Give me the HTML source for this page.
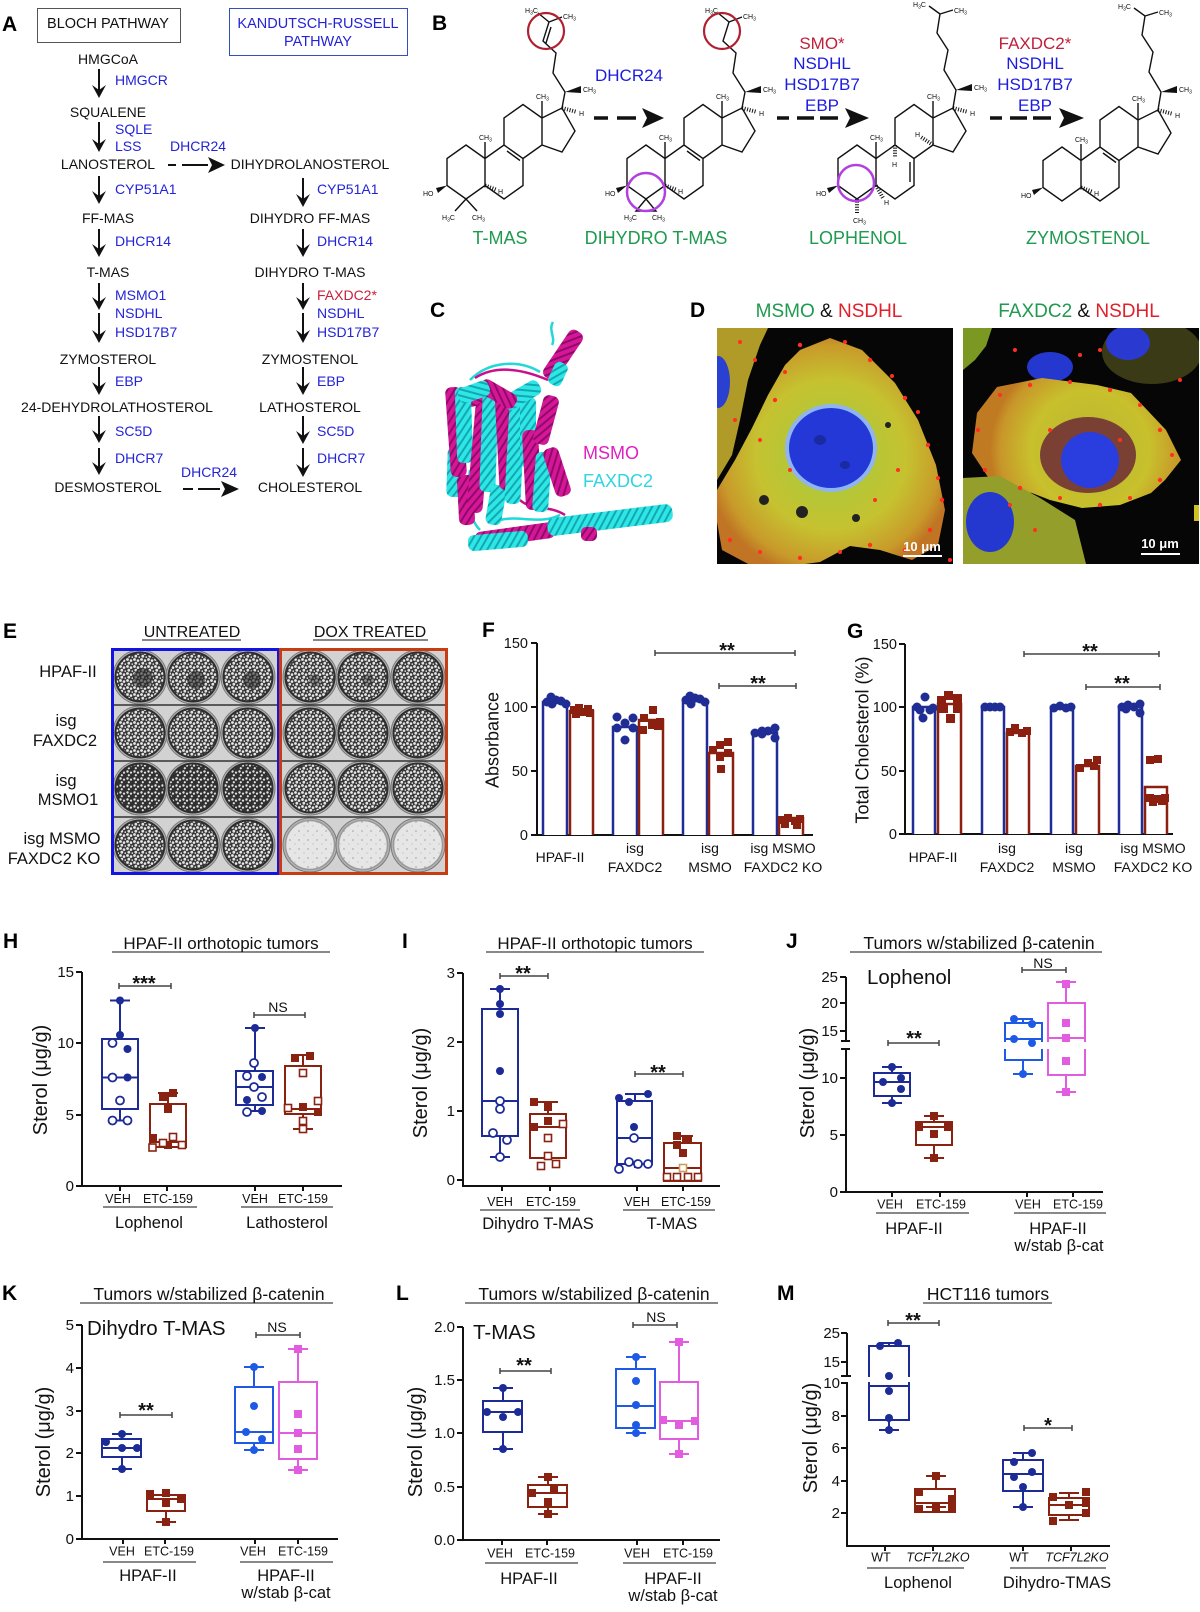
<!DOCTYPE html>
<html><head><meta charset="utf-8"><style>
html,body{margin:0;padding:0;background:#fff;}
svg text{font-family:"Liberation Sans",Arial,sans-serif;}
.pl{font-weight:bold;font-size:21px;fill:#000}
.a{font-size:14px;fill:#111}
.ab{font-size:14px;fill:#2323d8}
.ar{font-size:14px;fill:#c8203c}
.bb{font-size:17px;fill:#1c1ce0}
.br{font-size:17px;fill:#c0203a}
.bg{font-size:18px;fill:#1f9a4e}
.sm{font-size:7px;fill:#111}
.sub{font-size:5px}
.tk{font-size:14.5px;fill:#111}
.tk2{font-size:15px;fill:#111}
.yl{font-size:18px;fill:#111}
.yl2{font-size:20px;fill:#111}
.xl{font-size:14px;fill:#111}
.cat{font-size:12.5px;fill:#111}
.grp{font-size:16.5px;fill:#111}
.ttl{font-size:17.5px;fill:#111}
.st{font-size:20px;font-weight:bold;fill:#111}
.ns{font-size:14px;fill:#111}
.big{font-size:20.5px;fill:#111}
.el{font-size:16.5px;fill:#111}
.ax{stroke:#111;stroke-width:2;fill:none}
.brk{stroke:#444;stroke-width:1.5;fill:none}
.nb{stroke:#1c2b96;stroke-width:2;fill:#fff}
.rb{stroke:#8a2212;stroke-width:2;fill:#fff}
.sb{stroke:#1f5ae6;stroke-width:2;fill:#fff}
.mb{stroke:#e25ce0;stroke-width:2;fill:#fff}
.nf{fill:#1c2b96}
.no{fill:#fff;stroke:#1c2b96;stroke-width:1.8}
.rf{fill:#8a2212}
.ro{fill:#fff;stroke:#8a2212;stroke-width:1.6}
.sf{fill:#1f5ae6}
.mf{fill:#e25ce0}
.mol{stroke:#111;stroke-width:1.4;fill:none}
</style></head><body>
<svg width="1200" height="1607" viewBox="0 0 1200 1607" xmlns="http://www.w3.org/2000/svg">
<defs>
<pattern id="col" width="7" height="7" patternUnits="userSpaceOnUse"><rect width="7" height="7" fill="#383838"/><circle cx="1.5" cy="1.5" r="1.4" fill="#e8e8e8"/><circle cx="5" cy="2.6" r="1.3" fill="#e8e8e8"/><circle cx="2.8" cy="5.2" r="1.4" fill="#e2e2e2"/><circle cx="6.3" cy="6.1" r="0.9" fill="#d6d6d6"/></pattern>
<pattern id="col2" width="7" height="7" patternUnits="userSpaceOnUse"><rect width="7" height="7" fill="#303030"/><circle cx="1.5" cy="1.5" r="1.2" fill="#e6e6e6"/><circle cx="5" cy="2.6" r="1.1" fill="#e0e0e0"/><circle cx="2.8" cy="5.2" r="1.1" fill="#e2e2e2"/></pattern>
<pattern id="emp" width="9" height="9" patternUnits="userSpaceOnUse"><rect width="9" height="9" fill="#e6e6e6"/><circle cx="2" cy="3" r="0.6" fill="#777"/><circle cx="7" cy="7" r="0.5" fill="#999"/></pattern>
<pattern id="hm" width="6" height="6" patternUnits="userSpaceOnUse" patternTransform="rotate(35)"><rect width="6" height="6" fill="#d6169a"/><rect width="2" height="6" fill="#8e0c62"/></pattern>
<pattern id="hc" width="6" height="6" patternUnits="userSpaceOnUse" patternTransform="rotate(35)"><rect width="6" height="6" fill="#2ee6e6"/><rect width="2" height="6" fill="#13a8b0"/></pattern>
<radialGradient id="g1" cx="831" cy="455" r="125" gradientUnits="userSpaceOnUse"><stop offset="0" stop-color="#a0cc40"/><stop offset="0.6" stop-color="#c6c230"/><stop offset="0.88" stop-color="#c89a2a"/><stop offset="1" stop-color="#c07424"/></radialGradient>
<radialGradient id="g2" cx="1090" cy="450" r="100" gradientUnits="userSpaceOnUse"><stop offset="0" stop-color="#b8b432"/><stop offset="0.6" stop-color="#c8c02c"/><stop offset="0.9" stop-color="#c8962a"/><stop offset="1" stop-color="#c07a22"/></radialGradient>
<clipPath id="d1"><rect x="717" y="328" width="236" height="236"/></clipPath>
<clipPath id="d2"><rect x="963" y="328" width="236" height="236"/></clipPath>
</defs>

<!-- ================= PANEL A ================= -->
<text class="pl" x="2" y="31">A</text>
<rect x="37.5" y="8.5" width="143" height="34" fill="none" stroke="#555" stroke-width="1"/>
<text x="108" y="28" text-anchor="middle" style="font-size:14.5px;fill:#111">BLOCH PATHWAY</text>
<rect x="229.5" y="8.5" width="178" height="47" fill="none" stroke="#3050c0" stroke-width="1"/>
<text x="318" y="28" text-anchor="middle" style="font-size:14.5px;fill:#2323d8">KANDUTSCH-RUSSELL</text>
<text x="318" y="46" text-anchor="middle" style="font-size:14.5px;fill:#2323d8">PATHWAY</text>

<g text-anchor="middle">
<text class="a" x="108" y="64">HMGCoA</text>
<text class="a" x="108" y="117">SQUALENE</text>
<text class="a" x="108" y="169">LANOSTEROL</text>
<text class="a" x="108" y="223">FF-MAS</text>
<text class="a" x="108" y="277">T-MAS</text>
<text class="a" x="108" y="364">ZYMOSTEROL</text>
<text class="a" x="117" y="412">24-DEHYDROLATHOSTEROL</text>
<text class="a" x="108" y="492">DESMOSTEROL</text>
<text class="a" x="310" y="169">DIHYDROLANOSTEROL</text>
<text class="a" x="310" y="223">DIHYDRO FF-MAS</text>
<text class="a" x="310" y="277">DIHYDRO T-MAS</text>
<text class="a" x="310" y="364">ZYMOSTENOL</text>
<text class="a" x="310" y="412">LATHOSTEROL</text>
<text class="a" x="310" y="492">CHOLESTEROL</text>
</g>
<text class="ab" x="115" y="85">HMGCR</text>
<text class="ab" x="115" y="134">SQLE</text>
<text class="ab" x="115" y="151">LSS</text>
<text class="ab" x="170" y="151">DHCR24</text>
<text class="ab" x="115" y="194">CYP51A1</text>
<text class="ab" x="115" y="246">DHCR14</text>
<text class="ab" x="115" y="300">MSMO1</text>
<text class="ab" x="115" y="318">NSDHL</text>
<text class="ab" x="115" y="337">HSD17B7</text>
<text class="ab" x="115" y="386">EBP</text>
<text class="ab" x="115" y="436">SC5D</text>
<text class="ab" x="115" y="463">DHCR7</text>
<text class="ab" x="181" y="477">DHCR24</text>
<text class="ab" x="317" y="194">CYP51A1</text>
<text class="ab" x="317" y="246">DHCR14</text>
<text class="ar" x="317" y="300">FAXDC2*</text>
<text class="ab" x="317" y="318">NSDHL</text>
<text class="ab" x="317" y="337">HSD17B7</text>
<text class="ab" x="317" y="386">EBP</text>
<text class="ab" x="317" y="436">SC5D</text>
<text class="ab" x="317" y="463">DHCR7</text>

<g stroke="#111" stroke-width="2">
<line x1="99" y1="69" x2="99" y2="92"/><line x1="99" y1="122" x2="99" y2="146"/>
<line x1="99" y1="176" x2="99" y2="198"/><line x1="99" y1="229" x2="99" y2="251"/>
<line x1="99" y1="283" x2="99" y2="304"/><line x1="99" y1="313" x2="99" y2="337"/>
<line x1="99" y1="367" x2="99" y2="389"/><line x1="99" y1="416" x2="99" y2="437"/>
<line x1="99" y1="448" x2="99" y2="469"/>
<line x1="303" y1="178" x2="303" y2="201"/><line x1="303" y1="229" x2="303" y2="251"/>
<line x1="303" y1="283" x2="303" y2="304"/><line x1="303" y1="313" x2="303" y2="337"/>
<line x1="303" y1="367" x2="303" y2="389"/><line x1="303" y1="416" x2="303" y2="438"/>
<line x1="303" y1="448" x2="303" y2="471"/>
<line x1="168" y1="165" x2="176" y2="165"/><line x1="182" y1="165" x2="208" y2="165"/>
<line x1="183" y1="489" x2="193" y2="489"/><line x1="198" y1="489" x2="220" y2="489"/>
</g>
<g fill="#111">
<path d="M92,85 L99,98 L106,85 L99,90Z"/><path d="M92,139 L99,152 L106,139 L99,144Z"/>
<path d="M92,191 L99,204 L106,191 L99,196Z"/><path d="M92,244 L99,257 L106,244 L99,249Z"/>
<path d="M92,297 L99,310 L106,297 L99,302Z"/><path d="M92,330 L99,343 L106,330 L99,335Z"/>
<path d="M92,382 L99,395 L106,382 L99,387Z"/><path d="M92,430 L99,443 L106,430 L99,435Z"/>
<path d="M92,462 L99,475 L106,462 L99,467Z"/>
<path d="M296,194 L303,207 L310,194 L303,199Z"/><path d="M296,244 L303,257 L310,244 L303,249Z"/>
<path d="M296,297 L303,310 L310,297 L303,302Z"/><path d="M296,330 L303,343 L310,330 L303,335Z"/>
<path d="M296,382 L303,395 L310,382 L303,387Z"/><path d="M296,431 L303,444 L310,431 L303,436Z"/>
<path d="M296,464 L303,477 L310,464 L303,469Z"/>
<path d="M208,157 L225,165 L208,173 L212,165Z"/>
<path d="M221,481 L239,489 L221,497 L225,489Z"/>
</g>

<!-- ================= PANEL B ================= -->
<text class="pl" x="432" y="30">B</text>
<text class="bb" x="629" y="81" text-anchor="middle">DHCR24</text>
<g text-anchor="middle">
<text class="br" x="822" y="49">SMO*</text>
<text class="bb" x="822" y="69">NSDHL</text>
<text class="bb" x="822" y="90">HSD17B7</text>
<text class="bb" x="822" y="111">EBP</text>
<text class="br" x="1035" y="49">FAXDC2*</text>
<text class="bb" x="1035" y="69">NSDHL</text>
<text class="bb" x="1035" y="90">HSD17B7</text>
<text class="bb" x="1035" y="111">EBP</text>
<text class="bg" x="500" y="244">T-MAS</text>
<text class="bg" x="656" y="244">DIHYDRO T-MAS</text>
<text class="bg" x="858" y="244">LOPHENOL</text>
<text class="bg" x="1088" y="244">ZYMOSTENOL</text>
</g>
<g stroke="#111" stroke-width="3.5">
<line x1="594" y1="118" x2="608" y2="118"/><line x1="617" y1="118" x2="636" y2="118"/>
<line x1="777" y1="118" x2="789" y2="118"/><line x1="797" y1="118" x2="814" y2="118"/><line x1="820" y1="118" x2="838" y2="118"/>
<line x1="990" y1="118" x2="1002" y2="118"/><line x1="1010" y1="118" x2="1027" y2="118"/><line x1="1033" y1="118" x2="1051" y2="118"/>
</g>
<g fill="#111">
<path d="M642,108 L664,118 L642,128 L647,118Z"/>
<path d="M845,108 L869,118 L845,128 L850,118Z"/>
<path d="M1059,108 L1084,118 L1059,128 L1064,118Z"/>
</g>

<!-- molecule 1: T-MAS -->
<g>
<path class="mol" d="M466,145 L485,158.5 L485,185.5 L466,199 L447,185.5 L447,158.5 Z M485,158.5 L504,145 L523,158.5 L523,185.5 L504,199 L485,185.5 M504,145 L504,118 L523,104.5 L542,118 L542,145 L523,158.5 M542,118 L562,108 L575,131 L562,152 L542,145"/>
<path class="mol" d="M507,151 L520,160.5 M485,158.5 L485,142 M542,118 L542,101 M562,108 L565,92 L553,73 L556,53 L543,41 L549,22 L538,13 M549,22 L562,17 M546,43 L551,27 M466,199 L455,211 M466,199 L477,211"/>
<polygon points="565,92 581,86 581,93" fill="#111"/>
<polygon points="447,185.5 436,188 438,193" fill="#111"/>
<line x1="562" y1="108" x2="577" y2="112" stroke="#111" stroke-width="4" stroke-dasharray="1 1.6"/>
<line x1="485" y1="185.5" x2="497" y2="190" stroke="#111" stroke-width="4" stroke-dasharray="1 1.6"/>
<text class="sm" x="479" y="140">CH<tspan class="sub" dy="1.5">3</tspan></text>
<text class="sm" x="536" y="99">CH<tspan class="sub" dy="1.5">3</tspan></text>
<text class="sm" x="583" y="92">CH<tspan class="sub" dy="1.5">3</tspan></text>
<text class="sm" x="579" y="116">H</text>
<text class="sm" x="498" y="194">H</text>
<text class="sm" x="423" y="196">HO</text>
<text class="sm" x="442" y="220">H<tspan class="sub" dy="1.5">3</tspan><tspan dy="-1.5">C</tspan></text>
<text class="sm" x="472" y="220">CH<tspan class="sub" dy="1.5">3</tspan></text>
<text class="sm" x="525" y="13">H<tspan class="sub" dy="1.5">3</tspan><tspan dy="-1.5">C</tspan></text>
<text class="sm" x="563" y="19">CH<tspan class="sub" dy="1.5">3</tspan></text>
<circle cx="546" cy="31" r="18" fill="none" stroke="#b02030" stroke-width="2.2"/>
</g>
<!-- molecule 2: Dihydro T-MAS -->
<g transform="translate(180,0)">
<path class="mol" d="M466,145 L485,158.5 L485,185.5 L466,199 L447,185.5 L447,158.5 Z M485,158.5 L504,145 L523,158.5 L523,185.5 L504,199 L485,185.5 M504,145 L504,118 L523,104.5 L542,118 L542,145 L523,158.5 M542,118 L562,108 L575,131 L562,152 L542,145"/>
<path class="mol" d="M507,151 L520,160.5 M485,158.5 L485,142 M542,118 L542,101 M562,108 L565,92 L553,73 L556,53 L543,41 L549,22 L538,13 M549,22 L562,17 M466,199 L456,211 L476,211 Z"/>
<polygon points="565,92 581,86 581,93" fill="#111"/>
<polygon points="447,185.5 436,188 438,193" fill="#111"/>
<line x1="562" y1="108" x2="577" y2="112" stroke="#111" stroke-width="4" stroke-dasharray="1 1.6"/>
<line x1="485" y1="185.5" x2="497" y2="190" stroke="#111" stroke-width="4" stroke-dasharray="1 1.6"/>
<text class="sm" x="479" y="140">CH<tspan class="sub" dy="1.5">3</tspan></text>
<text class="sm" x="536" y="99">CH<tspan class="sub" dy="1.5">3</tspan></text>
<text class="sm" x="583" y="92">CH<tspan class="sub" dy="1.5">3</tspan></text>
<text class="sm" x="579" y="116">H</text>
<text class="sm" x="498" y="194">H</text>
<text class="sm" x="425" y="196">HO</text>
<text class="sm" x="444" y="220">H<tspan class="sub" dy="1.5">3</tspan><tspan dy="-1.5">C</tspan></text>
<text class="sm" x="472" y="220">CH<tspan class="sub" dy="1.5">3</tspan></text>
<text class="sm" x="525" y="13">H<tspan class="sub" dy="1.5">3</tspan><tspan dy="-1.5">C</tspan></text>
<text class="sm" x="563" y="19">CH<tspan class="sub" dy="1.5">3</tspan></text>
<circle cx="542" cy="31" r="18" fill="none" stroke="#b02030" stroke-width="2.2"/>
<circle cx="466" cy="192" r="19" fill="none" stroke="#b040e0" stroke-width="2.5"/>
</g>
<!-- molecule 3: Lophenol -->
<g transform="translate(391,0)">
<path class="mol" d="M466,145 L485,158.5 L485,185.5 L466,199 L447,185.5 L447,158.5 Z M485,158.5 L504,145 L523,158.5 L523,185.5 L504,199 L485,185.5 M504,145 L504,118 L523,104.5 L542,118 L542,145 L523,158.5 M542,118 L562,108 L575,131 L562,152 L542,145"/>
<path class="mol" d="M519,162 L519,182 M485,158.5 L485,142 M542,118 L542,101 M562,108 L565,90 L553,70 L557,50 L546,33 L549,14 L538,6 M549,14 L562,10"/>
<polygon points="565,90 581,84 581,91" fill="#111"/>
<polygon points="447,185.5 436,188 438,193" fill="#111"/>
<line x1="562" y1="108" x2="577" y2="112" stroke="#111" stroke-width="4" stroke-dasharray="1 1.6"/>
<line x1="504" y1="145" x2="504" y2="158" stroke="#111" stroke-width="4" stroke-dasharray="1 1.6"/>
<line x1="542" y1="145" x2="530" y2="137" stroke="#111" stroke-width="4" stroke-dasharray="1 1.6"/>
<line x1="485" y1="185.5" x2="492" y2="198" stroke="#111" stroke-width="4" stroke-dasharray="1 1.6"/>
<line x1="466" y1="199" x2="466" y2="214" stroke="#111" stroke-width="4" stroke-dasharray="1 1.6"/>
<text class="sm" x="479" y="140">CH<tspan class="sub" dy="1.5">3</tspan></text>
<text class="sm" x="536" y="99">CH<tspan class="sub" dy="1.5">3</tspan></text>
<text class="sm" x="583" y="90">CH<tspan class="sub" dy="1.5">3</tspan></text>
<text class="sm" x="579" y="116">H</text>
<text class="sm" x="501" y="167">H</text>
<text class="sm" x="524" y="137">H</text>
<text class="sm" x="493" y="205">H</text>
<text class="sm" x="425" y="196">HO</text>
<text class="sm" x="462" y="223">CH<tspan class="sub" dy="1.5">3</tspan></text>
<text class="sm" x="522" y="7">H<tspan class="sub" dy="1.5">3</tspan><tspan dy="-1.5">C</tspan></text>
<text class="sm" x="563" y="13">CH<tspan class="sub" dy="1.5">3</tspan></text>
<circle cx="465" cy="183" r="18" fill="none" stroke="#b040e0" stroke-width="2.5"/>
</g>
<!-- molecule 4: Zymostenol -->
<g transform="translate(596,2)">
<path class="mol" d="M466,145 L485,158.5 L485,185.5 L466,199 L447,185.5 L447,158.5 Z M485,158.5 L504,145 L523,158.5 L523,185.5 L504,199 L485,185.5 M504,145 L504,118 L523,104.5 L542,118 L542,145 L523,158.5 M542,118 L562,108 L575,131 L562,152 L542,145"/>
<path class="mol" d="M507,151 L520,160.5 M485,158.5 L485,142 M542,118 L542,101 M562,108 L565,90 L553,70 L557,50 L546,33 L549,14 L538,6 M549,14 L562,10"/>
<polygon points="565,90 581,84 581,91" fill="#111"/>
<polygon points="447,185.5 436,188 438,193" fill="#111"/>
<line x1="562" y1="108" x2="577" y2="112" stroke="#111" stroke-width="4" stroke-dasharray="1 1.6"/>
<line x1="485" y1="185.5" x2="497" y2="190" stroke="#111" stroke-width="4" stroke-dasharray="1 1.6"/>
<text class="sm" x="479" y="140">CH<tspan class="sub" dy="1.5">3</tspan></text>
<text class="sm" x="536" y="99">CH<tspan class="sub" dy="1.5">3</tspan></text>
<text class="sm" x="583" y="90">CH<tspan class="sub" dy="1.5">3</tspan></text>
<text class="sm" x="579" y="116">H</text>
<text class="sm" x="498" y="194">H</text>
<text class="sm" x="425" y="196">HO</text>
<text class="sm" x="522" y="7">H<tspan class="sub" dy="1.5">3</tspan><tspan dy="-1.5">C</tspan></text>
<text class="sm" x="563" y="13">CH<tspan class="sub" dy="1.5">3</tspan></text>
</g>

<!-- ================= PANEL C ================= -->
<text class="pl" x="430" y="317">C</text>
<g>
<path d="M553,322 C548,330 556,338 552,345 M470,380 C490,360 520,360 540,372 M500,520 C520,515 540,525 560,515 M470,470 C465,500 470,520 480,530" stroke="#22d8d8" stroke-width="2.5" fill="none"/>
<path d="M475,378 C495,365 520,368 548,380 M520,500 C530,510 550,505 565,515" stroke="#c8108c" stroke-width="2.5" fill="none"/>
<rect x="-8" y="-28" width="16" height="56" rx="6" fill="url(#hm)" transform="translate(563,355) rotate(34)"/>
<rect x="-7" y="-12" width="14" height="24" rx="5" fill="url(#hc)" transform="translate(558,374) rotate(25)"/>
<rect x="-8" y="-20" width="16" height="40" rx="6" fill="url(#hm)" transform="translate(476,398) rotate(80)"/>
<rect x="-8" y="-25" width="16" height="50" rx="6" fill="url(#hc)" transform="translate(455,472) rotate(2)"/>
<rect x="-8" y="-25" width="16" height="50" rx="6" fill="url(#hm)" transform="translate(466,500) rotate(-3)"/>
<rect x="-8" y="-45" width="16" height="90" rx="6" fill="url(#hm)" transform="translate(456,432) rotate(-4)"/>
<rect x="-8" y="-38" width="16" height="76" rx="6" fill="url(#hc)" transform="translate(464,425) rotate(-2)"/>
<rect x="-8" y="-55" width="16" height="110" rx="6" fill="url(#hm)" transform="translate(479,458) rotate(5)"/>
<rect x="-8" y="-50" width="16" height="100" rx="6" fill="url(#hc)" transform="translate(489,442) rotate(2)"/>
<rect x="-8" y="-20" width="16" height="40" rx="6" fill="url(#hc)" transform="translate(496,505) rotate(10)"/>
<rect x="-8" y="-50" width="16" height="100" rx="6" fill="url(#hm)" transform="translate(505,440) rotate(-3)"/>
<rect x="-8" y="-52" width="16" height="104" rx="6" fill="url(#hc)" transform="translate(515,452) rotate(3)"/>
<rect x="-8" y="-35" width="16" height="70" rx="6" fill="url(#hc)" transform="translate(528,432) rotate(0)"/>
<rect x="-8" y="-40" width="16" height="80" rx="6" fill="url(#hm)" transform="translate(532,470) rotate(-3)"/>
<rect x="-8" y="-25" width="16" height="50" rx="6" fill="url(#hm)" transform="translate(546,420) rotate(15)"/>
<rect x="-8" y="-30" width="16" height="60" rx="6" fill="url(#hc)" transform="translate(542,482) rotate(4)"/>
<rect x="-8" y="-25" width="16" height="50" rx="6" fill="url(#hm)" transform="translate(557,472) rotate(-18)"/>
<rect x="-8" y="-20" width="16" height="40" rx="6" fill="url(#hc)" transform="translate(522,395) rotate(60)"/>
<rect x="-8" y="-20" width="16" height="40" rx="6" fill="url(#hm)" transform="translate(498,394) rotate(-60)"/>
<rect x="-8" y="-16" width="16" height="32" rx="6" fill="url(#hc)" transform="translate(474,392) rotate(70)"/>
<rect x="-40" y="-8" width="80" height="16" rx="6" fill="url(#hm)" transform="translate(515,535) rotate(-8)"/>
<rect x="-30" y="-8" width="60" height="16" rx="6" fill="url(#hc)" transform="translate(498,541) rotate(-5)"/>
<rect x="-63" y="-9" width="126" height="18" rx="7" fill="url(#hc)" transform="translate(610,520) rotate(-7)"/>
<rect x="-8" y="-7" width="16" height="14" rx="5" fill="url(#hm)" transform="translate(589,534)"/>
</g>
<text x="583" y="459" style="font-size:18px;fill:#e020c0">MSMO</text>
<text x="583" y="487" style="font-size:18px;fill:#30d4e4">FAXDC2</text>

<!-- ================= PANEL D ================= -->
<text class="pl" x="690" y="317">D</text>
<text x="829" y="317" text-anchor="middle" style="font-size:19px"><tspan fill="#1f9a4e">MSMO</tspan><tspan fill="#111"> &amp; </tspan><tspan fill="#e0202a">NSDHL</tspan></text>
<text x="1079" y="317" text-anchor="middle" style="font-size:19px"><tspan fill="#1f9a4e">FAXDC2</tspan><tspan fill="#111"> &amp; </tspan><tspan fill="#e0202a">NSDHL</tspan></text>
<g clip-path="url(#d1)">
<rect x="717" y="328" width="236" height="236" fill="#060606"/>
<polygon points="717,328 768,328 760,345 748,380 740,420 732,455 717,480" fill="#b09a28"/>
<ellipse cx="718" cy="382" rx="12" ry="26" fill="#2a40d0"/>
<polygon points="800,350 830,338 862,350 895,383 918,420 936,465 945,510 938,545 912,560 880,550 850,546 820,562 790,566 752,566 722,550 717,522 717,490 735,460 752,428 768,395 785,365" fill="url(#g1)"/>
<ellipse cx="831" cy="448" rx="46" ry="44" fill="#8fb4f0"/>
<ellipse cx="831" cy="448" rx="42" ry="40" fill="#2438d8"/>
<ellipse cx="820" cy="440" rx="6" ry="5" fill="#1a2aa0"/>
<ellipse cx="845" cy="465" rx="5" ry="4" fill="#1a2aa0"/>
<circle cx="764" cy="500" r="5" fill="#222"/><circle cx="802" cy="512" r="6" fill="#222"/><circle cx="856" cy="518" r="4" fill="#222"/><circle cx="888" cy="425" r="3" fill="#222"/>
<g fill="#ff3020">
<circle cx="800" cy="345" r="2.2"/><circle cx="845" cy="342" r="2"/><circle cx="870" cy="360" r="2.2"/><circle cx="892" cy="376" r="2"/><circle cx="905" cy="398" r="2.2"/><circle cx="918" cy="412" r="2"/><circle cx="928" cy="445" r="2.2"/><circle cx="938" cy="478" r="2"/><circle cx="942" cy="500" r="2.2"/><circle cx="930" cy="530" r="2.2"/><circle cx="905" cy="550" r="2"/><circle cx="870" cy="545" r="2.2"/><circle cx="840" cy="552" r="2"/><circle cx="800" cy="558" r="2.2"/><circle cx="760" cy="552" r="2"/><circle cx="730" cy="540" r="2.2"/><circle cx="785" cy="372" r="2"/><circle cx="775" cy="400" r="2.2"/><circle cx="760" cy="440" r="2"/><circle cx="875" cy="500" r="2"/><circle cx="898" cy="470" r="2"/><circle cx="790" cy="470" r="2"/><circle cx="740" cy="342" r="2"/><circle cx="755" cy="360" r="2"/><circle cx="950" cy="560" r="2"/><circle cx="735" cy="420" r="2"/>
</g>
<text x="922" y="551" text-anchor="middle" style="font-size:13px;font-weight:bold;fill:#fff">10 μm</text>
<line x1="903" y1="556" x2="942" y2="556" stroke="#fff" stroke-width="2"/>
</g>
<g clip-path="url(#d2)">
<rect x="963" y="328" width="236" height="236" fill="#060606"/>
<polygon points="963,328 992,328 986,346 975,360 963,370" fill="#7a9822"/>
<ellipse cx="1152" cy="352" rx="50" ry="32" fill="#3a3a16"/>
<ellipse cx="1128" cy="343" rx="22" ry="17" fill="#2a3ad0"/>
<ellipse cx="1050" cy="367" rx="23" ry="15" fill="#2438d0"/>
<polygon points="977,413 997,387 1042,378 1097,385 1131,393 1166,430 1181,460 1165,480 1151,493 1120,505 1082,508 1050,500 1032,493 992,483 972,453" fill="url(#g2)"/>
<ellipse cx="1088" cy="455" rx="48" ry="38" fill="#7a4034"/>
<ellipse cx="1090" cy="460" rx="29" ry="28" fill="#2a3ee0"/>
<polygon points="963,478 1000,476 1040,498 1075,520 1086,564 963,564" fill="#949e2a"/>
<ellipse cx="990" cy="522" rx="24" ry="30" fill="#2438d0"/>
<rect x="1194" y="505" width="6" height="16" fill="#d0c020"/>
<g fill="#ff3020">
<circle cx="1000" cy="395" r="2"/><circle cx="1030" cy="385" r="2.2"/><circle cx="1070" cy="382" r="2"/><circle cx="1110" cy="390" r="2.2"/><circle cx="1140" cy="405" r="2"/><circle cx="1160" cy="430" r="2.2"/><circle cx="1172" cy="455" r="2"/><circle cx="1160" cy="480" r="2.2"/><circle cx="1130" cy="498" r="2"/><circle cx="1100" cy="505" r="2.2"/><circle cx="1060" cy="498" r="2"/><circle cx="1020" cy="488" r="2.2"/><circle cx="985" cy="470" r="2"/><circle cx="978" cy="430" r="2.2"/><circle cx="1050" cy="430" r="2"/><circle cx="1120" cy="440" r="2"/><circle cx="1100" cy="350" r="2"/><circle cx="1080" cy="355" r="2"/><circle cx="1015" cy="350" r="2"/><circle cx="1180" cy="380" r="2"/><circle cx="1035" cy="530" r="2"/><circle cx="1010" cy="505" r="2"/>
</g>
<text x="1160" y="548" text-anchor="middle" style="font-size:13px;font-weight:bold;fill:#fff">10 μm</text>
<line x1="1141" y1="554" x2="1180" y2="554" stroke="#fff" stroke-width="2"/>
</g>

<!-- ================= PANEL E ================= -->
<text class="pl" x="3" y="638">E</text>
<text class="el" x="192" y="637" text-anchor="middle" style="font-size:16px">UNTREATED</text>
<line x1="142" y1="640" x2="241" y2="640" stroke="#111" stroke-width="1"/>
<text class="el" x="370" y="637" text-anchor="middle" style="font-size:16px">DOX TREATED</text>
<line x1="313" y1="640" x2="428" y2="640" stroke="#111" stroke-width="1"/>
<g text-anchor="middle">
<text class="el" x="68" y="677">HPAF-II</text>
<text class="el" x="66" y="726">isg</text>
<text class="el" x="65" y="746">FAXDC2</text>
<text class="el" x="66" y="786">isg</text>
<text class="el" x="68" y="805">MSMO1</text>
<text class="el" x="62" y="844">isg MSMO</text>
<text class="el" x="54" y="864">FAXDC2 KO</text>
</g>
<rect x="112" y="648" width="336" height="226" fill="#d2d2d2"/>
<g stroke="#7a7a7a" stroke-width="1" fill="#b4b4b4">
<circle cx="140" cy="677" r="27"/><circle cx="193" cy="677" r="27"/><circle cx="248" cy="677" r="27"/><circle cx="310" cy="677" r="27"/><circle cx="363" cy="677" r="27"/><circle cx="418" cy="677" r="27"/>
<circle cx="140" cy="733" r="27"/><circle cx="193" cy="733" r="27"/><circle cx="248" cy="733" r="27"/><circle cx="310" cy="733" r="27"/><circle cx="363" cy="733" r="27"/><circle cx="418" cy="733" r="27"/>
<circle cx="140" cy="788" r="27"/><circle cx="193" cy="788" r="27"/><circle cx="248" cy="788" r="27"/><circle cx="310" cy="788" r="27"/><circle cx="363" cy="788" r="27"/><circle cx="418" cy="788" r="27"/>
<circle cx="140" cy="845" r="27"/><circle cx="193" cy="845" r="27"/><circle cx="248" cy="845" r="27"/><circle cx="310" cy="845" r="27"/><circle cx="363" cy="845" r="27"/><circle cx="418" cy="845" r="27"/>
</g>
<g stroke="#2e2e2e" stroke-width="2">
<circle cx="140" cy="677" r="24.5" fill="url(#col)"/><circle cx="193" cy="677" r="24.5" fill="url(#col)"/><circle cx="248" cy="677" r="24.5" fill="url(#col)"/><circle cx="310" cy="677" r="24.5" fill="url(#col)"/><circle cx="363" cy="677" r="24.5" fill="url(#col)"/><circle cx="418" cy="677" r="24.5" fill="url(#col)"/>
<circle cx="140" cy="733" r="24.5" fill="url(#col)"/><circle cx="193" cy="733" r="24.5" fill="url(#col)"/><circle cx="248" cy="733" r="24.5" fill="url(#col)"/><circle cx="310" cy="733" r="24.5" fill="url(#col)"/><circle cx="363" cy="733" r="24.5" fill="url(#col)"/><circle cx="418" cy="733" r="24.5" fill="url(#col)"/>
<circle cx="140" cy="788" r="24.5" fill="url(#col2)"/><circle cx="193" cy="788" r="24.5" fill="url(#col2)"/><circle cx="248" cy="788" r="24.5" fill="url(#col2)"/><circle cx="310" cy="788" r="24.5" fill="url(#col)"/><circle cx="363" cy="788" r="24.5" fill="url(#col)"/><circle cx="418" cy="788" r="24.5" fill="url(#col)"/>
<circle cx="140" cy="845" r="24.5" fill="url(#col)"/><circle cx="193" cy="845" r="24.5" fill="url(#col)"/><circle cx="248" cy="845" r="24.5" fill="url(#col)"/>
</g>
<g stroke="#9a9a9a" stroke-width="1.5">
<circle cx="310" cy="845" r="24.5" fill="url(#emp)"/><circle cx="363" cy="845" r="24.5" fill="url(#emp)"/><circle cx="418" cy="845" r="24.5" fill="url(#emp)"/>
</g>
<g>
<circle cx="143" cy="678" r="10" fill="#2a2a2a" opacity="0.6"/><circle cx="196" cy="680" r="9" fill="#2a2a2a" opacity="0.6"/><circle cx="252" cy="680" r="9" fill="#2a2a2a" opacity="0.6"/>
<circle cx="315" cy="680" r="6" fill="#2a2a2a" opacity="0.45"/><circle cx="368" cy="680" r="6" fill="#2a2a2a" opacity="0.45"/>
</g>
<g stroke="#333" stroke-width="1.5">
<line x1="113" y1="705" x2="447" y2="705"/><line x1="113" y1="761" x2="447" y2="761"/><line x1="113" y1="817" x2="447" y2="817"/>
</g>
<rect x="112.5" y="649.5" width="166" height="224" fill="none" stroke="#1414e0" stroke-width="3"/>
<rect x="280.5" y="649.5" width="166" height="224" fill="none" stroke="#c83c14" stroke-width="3"/>

<!-- ================= PANEL F ================= -->
<text class="pl" x="482" y="637">F</text>
<g class="ax"><path d="M537,643 L537,835 L813,835 M531,643 L537,643 M531,707 L537,707 M531,771 L537,771 M531,835 L537,835"/></g>
<g text-anchor="end">
<text class="tk" x="528" y="648">150</text><text class="tk" x="528" y="712">100</text><text class="tk" x="528" y="776">50</text><text class="tk" x="528" y="840">0</text>
</g>
<text class="yl" transform="translate(492,740) rotate(-90)" y="6.5" text-anchor="middle">Absorbance</text>
<g stroke-width="2.5" fill="#fff">
<path d="M543,835 L543,702 L567,702 L567,835" stroke="#1f2d95"/>
<path d="M570,835 L570,711 L593,711 L593,835" stroke="#8b2010"/>
<path d="M613,835 L613,727 L637,727 L637,835" stroke="#1f2d95"/>
<path d="M639,835 L639,720 L663,720 L663,835" stroke="#8b2010"/>
<path d="M683,835 L683,701 L707,701 L707,835" stroke="#1f2d95"/>
<path d="M709,835 L709,753 L733,753 L733,835" stroke="#8b2010"/>
<path d="M753,835 L753,733 L777,733 L777,835" stroke="#1f2d95"/>
<path d="M779,835 L779,818 L803,818 L803,835" stroke="#8b2010"/>
</g>
<g fill="#1f2d95">
<circle cx="547" cy="702" r="4.5"/><circle cx="551" cy="697" r="4.5"/><circle cx="556" cy="700" r="4.5"/><circle cx="561" cy="701" r="4.5"/><circle cx="566" cy="704" r="4.5"/><circle cx="552" cy="704" r="4.5"/>
<circle cx="617" cy="717" r="4.5"/><circle cx="625" cy="723" r="4.5"/><circle cx="633" cy="718" r="4.5"/><circle cx="617" cy="728" r="4.5"/><circle cx="633" cy="728" r="4.5"/><circle cx="625" cy="740" r="4.5"/>
<circle cx="686" cy="700" r="4.5"/><circle cx="690" cy="696" r="4.5"/><circle cx="695" cy="698" r="4.5"/><circle cx="700" cy="699" r="4.5"/><circle cx="705" cy="702" r="4.5"/><circle cx="691" cy="704" r="4.5"/>
<circle cx="755" cy="733" r="4.5"/><circle cx="762" cy="731" r="4.5"/><circle cx="768" cy="731" r="4.5"/><circle cx="775" cy="728" r="4.5"/><circle cx="775" cy="738" r="4.5"/><circle cx="762" cy="734" r="4.5"/>
</g>
<g fill="#8b2010">
<rect x="570" y="706" width="8" height="8"/><rect x="575" y="704" width="8" height="8"/><rect x="579" y="708" width="8" height="8"/><rect x="584" y="705" width="8" height="8"/><rect x="572" y="710" width="8" height="8"/><rect x="586" y="709" width="8" height="8"/>
<rect x="640" y="714" width="8" height="8"/><rect x="649" y="706" width="8" height="8"/><rect x="656" y="718" width="8" height="8"/><rect x="639" y="726" width="8" height="8"/><rect x="648" y="721" width="8" height="8"/><rect x="654" y="722" width="8" height="8"/>
<rect x="724" y="738" width="8" height="8"/><rect x="716" y="741" width="8" height="8"/><rect x="709" y="746" width="8" height="8"/><rect x="724" y="749" width="8" height="8"/><rect x="716" y="753" width="8" height="8"/><rect x="717" y="765" width="8" height="8"/>
<rect x="778" y="816" width="8" height="8"/><rect x="784" y="814" width="8" height="8"/><rect x="791" y="817" width="8" height="8"/><rect x="796" y="815" width="8" height="8"/><rect x="781" y="820" width="8" height="8"/><rect x="793" y="821" width="8" height="8"/>
</g>
<g class="brk"><path d="M655,650 L655,656 M655,653 L795,653 M795,650 L795,656 M719,683 L719,689 M719,686 L796,686 M796,683 L796,689"/></g>
<text class="st" x="727" y="657" text-anchor="middle">**</text>
<text class="st" x="758" y="690" text-anchor="middle">**</text>
<g text-anchor="middle">
<text class="xl" x="560" y="862">HPAF-II</text>
<text class="xl" x="635" y="853">isg</text><text class="xl" x="635" y="872">FAXDC2</text>
<text class="xl" x="710" y="853">isg</text><text class="xl" x="710" y="872">MSMO</text>
<text class="xl" x="783" y="853">isg MSMO</text><text class="xl" x="783" y="872">FAXDC2 KO</text>
</g>

<!-- ================= PANEL G ================= -->
<text class="pl" x="847" y="638">G</text>
<g class="ax"><path d="M905,644 L905,834 L1173,834 M899,644 L905,644 M899,707 L905,707 M899,771 L905,771 M899,834 L905,834"/></g>
<g text-anchor="end">
<text class="tk" x="897" y="649">150</text><text class="tk" x="897" y="712">100</text><text class="tk" x="897" y="776">50</text><text class="tk" x="897" y="839">0</text>
</g>
<text class="yl" transform="translate(862,740) rotate(-90)" y="6.5" text-anchor="middle">Total Cholesterol (%)</text>
<g stroke-width="2.5" fill="#fff">
<path d="M913,834 L913,707 L935,707 L935,834" stroke="#1f2d95"/>
<path d="M938,834 L938,704 L961,704 L961,834" stroke="#8b2010"/>
<path d="M982,834 L982,707 L1004,707 L1004,834" stroke="#1f2d95"/>
<path d="M1007,834 L1007,733 L1029,733 L1029,834" stroke="#8b2010"/>
<path d="M1051,834 L1051,707 L1073,707 L1073,834" stroke="#1f2d95"/>
<path d="M1076,834 L1076,766 L1099,766 L1099,834" stroke="#8b2010"/>
<path d="M1119,834 L1119,707 L1142,707 L1142,834" stroke="#1f2d95"/>
<path d="M1145,834 L1145,787 L1167,787 L1167,834" stroke="#8b2010"/>
</g>
<g fill="#1f2d95">
<circle cx="917" cy="707" r="4.5"/><circle cx="925" cy="697" r="4.5"/><circle cx="933" cy="708" r="4.5"/><circle cx="920" cy="710" r="4.5"/><circle cx="923" cy="718" r="4.5"/><circle cx="930" cy="710" r="4.5"/>
<circle cx="985" cy="707" r="4.5"/><circle cx="990" cy="707" r="4.5"/><circle cx="995" cy="707" r="4.5"/><circle cx="1000" cy="707" r="4.5"/>
<circle cx="1054" cy="708" r="4.5"/><circle cx="1060" cy="706" r="4.5"/><circle cx="1066" cy="708" r="4.5"/><circle cx="1071" cy="707" r="4.5"/>
<circle cx="1122" cy="707" r="4.5"/><circle cx="1128" cy="705" r="4.5"/><circle cx="1134" cy="707" r="4.5"/><circle cx="1140" cy="704" r="4.5"/><circle cx="1140" cy="713" r="4.5"/><circle cx="1126" cy="709" r="4.5"/>
</g>
<g fill="#8b2010">
<rect x="937" y="696" width="9" height="9"/><rect x="944" y="691" width="9" height="9"/><rect x="953" y="694" width="9" height="9"/><rect x="939" y="704" width="9" height="9"/><rect x="953" y="704" width="9" height="9"/><rect x="946" y="714" width="9" height="9"/>
<rect x="1006" y="728" width="8" height="8"/><rect x="1011" y="724" width="8" height="8"/><rect x="1018" y="729" width="8" height="8"/><rect x="1023" y="727" width="8" height="8"/>
<rect x="1076" y="764" width="8" height="8"/><rect x="1084" y="759" width="8" height="8"/><rect x="1090" y="762" width="8" height="8"/><rect x="1093" y="756" width="8" height="8"/>
<rect x="1146" y="756" width="8" height="8"/><rect x="1154" y="755" width="8" height="8"/>
<rect x="1146" y="794" width="8" height="8"/><rect x="1149" y="798" width="8" height="8"/><rect x="1154" y="795" width="8" height="8"/><rect x="1158" y="797" width="8" height="8"/><rect x="1161" y="794" width="8" height="8"/>
</g>
<g class="brk"><path d="M1024,651 L1024,657 M1024,654 L1159,654 M1159,651 L1159,657 M1086,684 L1086,690 M1086,687 L1160,687 M1160,684 L1160,690"/></g>
<text class="st" x="1090" y="658" text-anchor="middle">**</text>
<text class="st" x="1122" y="690" text-anchor="middle">**</text>
<g text-anchor="middle">
<text class="xl" x="933" y="862">HPAF-II</text>
<text class="xl" x="1007" y="853">isg</text><text class="xl" x="1007" y="872">FAXDC2</text>
<text class="xl" x="1074" y="853">isg</text><text class="xl" x="1074" y="872">MSMO</text>
<text class="xl" x="1153" y="853">isg MSMO</text><text class="xl" x="1153" y="872">FAXDC2 KO</text>
</g>

<!-- ================= PANEL H ================= -->
<text class="pl" x="3" y="948">H</text>
<text class="ttl" x="221" y="949" text-anchor="middle" style="font-size:17px">HPAF-II orthotopic tumors</text>
<line x1="112" y1="952" x2="330" y2="952" stroke="#111" stroke-width="1"/>
<g class="ax"><path d="M82,972 L82,1186 L342,1186 M76,972 L82,972 M76,1043 L82,1043 M76,1115 L82,1115 M76,1186 L82,1186 M120,1186 L120,1191 M167,1186 L167,1191 M255,1186 L255,1191 M303,1186 L303,1191"/></g>
<g text-anchor="end"><text class="tk2" x="74" y="977">15</text><text class="tk2" x="74" y="1048">10</text><text class="tk2" x="74" y="1120">5</text><text class="tk2" x="74" y="1191">0</text></g>
<text class="yl2" transform="translate(40,1080) rotate(-90)" y="7" text-anchor="middle">Sterol (μg/g)</text>
<path class="nb" d="M120,1000.5 L120,1039 M120,1109 L120,1120.5 M110,1000.5 L130,1000.5 M110,1120.5 L130,1120.5"/>
<rect class="nb" x="102" y="1039" width="36" height="70"/><line x1="102" y1="1077.5" x2="138" y2="1077.5" stroke="#1c2b96" stroke-width="2"/>
<path class="rb" d="M168,1093 L168,1104 M158,1093 L178,1093"/>
<rect class="rb" x="150" y="1104" width="36" height="43"/><line x1="150" y1="1142" x2="186" y2="1142" stroke="#8a2212" stroke-width="2"/>
<path class="nb" d="M255,1028 L255,1071 M255,1105 L255,1111 M245,1028 L265,1028 M245,1111 L265,1111"/>
<rect class="nb" x="236" y="1071" width="37" height="34"/><line x1="236" y1="1087" x2="273" y2="1087" stroke="#1c2b96" stroke-width="2"/>
<path class="rb" d="M303,1055 L303,1066 M303,1114 L303,1129 M293,1055 L313,1055 M293,1129 L313,1129"/>
<rect class="rb" x="285" y="1066" width="36" height="48"/><line x1="285" y1="1109" x2="321" y2="1109" stroke="#8a2212" stroke-width="2"/>
<g>
<circle class="nf" cx="120" cy="1000.5" r="4"/><circle class="nf" cx="120" cy="1035" r="4"/><circle class="nf" cx="127.5" cy="1049" r="4"/><circle class="nf" cx="127.5" cy="1077.5" r="4"/>
<circle class="no" cx="112.5" cy="1043" r="4"/><circle class="no" cx="112.5" cy="1077.5" r="4"/><circle class="no" cx="120" cy="1100.5" r="4"/><circle class="no" cx="112.5" cy="1120.5" r="4"/><circle class="no" cx="127.5" cy="1120.5" r="4"/>
<rect class="rf" x="169" y="1089" width="8" height="8"/><rect class="rf" x="159" y="1093" width="8" height="8"/><rect class="rf" x="164" y="1105" width="8" height="8"/><rect class="rf" x="149" y="1134" width="8" height="8"/><rect class="rf" x="164" y="1141" width="8" height="8"/>
<rect class="ro" x="149" y="1144" width="7" height="7"/><rect class="ro" x="159.5" y="1139.5" width="7" height="7"/><rect class="ro" x="169.5" y="1133.5" width="7" height="7"/><rect class="ro" x="178.5" y="1141.5" width="7" height="7"/>
<circle class="nf" cx="255" cy="1028" r="4"/><circle class="nf" cx="262" cy="1077" r="4"/><circle class="nf" cx="247" cy="1100" r="4"/><circle class="nf" cx="262" cy="1111" r="4"/>
<circle class="no" cx="254" cy="1063" r="4"/><circle class="no" cx="247" cy="1076" r="4"/><circle class="no" cx="254" cy="1087" r="4"/><circle class="no" cx="262" cy="1097" r="4"/><circle class="no" cx="247" cy="1112" r="4"/>
<rect class="rf" x="306" y="1052" width="8" height="8"/><rect class="rf" x="291" y="1054" width="8" height="8"/><rect class="rf" x="299" y="1103" width="8" height="8"/><rect class="rf" x="314" y="1108" width="8" height="8"/>
<rect class="ro" x="299.5" y="1069.5" width="7" height="7"/><rect class="ro" x="314.5" y="1097.5" width="7" height="7"/><rect class="ro" x="284.5" y="1104.5" width="7" height="7"/><rect class="ro" x="299.5" y="1117.5" width="7" height="7"/><rect class="ro" x="299.5" y="1125.5" width="7" height="7"/>
</g>
<g class="brk"><path d="M119,983 L119,989 M119,986 L171,986 M171,983 L171,989 M254,1012 L254,1018 M254,1015 L305,1015 M305,1012 L305,1018"/></g>
<text class="st" x="144" y="990" text-anchor="middle">***</text>
<text class="ns" x="278" y="1012" text-anchor="middle">NS</text>
<g text-anchor="middle">
<text class="cat" x="118" y="1203">VEH</text><text class="cat" x="168" y="1203">ETC-159</text>
<text class="cat" x="255" y="1203">VEH</text><text class="cat" x="303" y="1203">ETC-159</text>
<text class="grp" x="149" y="1228">Lophenol</text><text class="grp" x="287" y="1228">Lathosterol</text>
</g>
<g stroke="#111" stroke-width="1"><line x1="103" y1="1207" x2="197" y2="1207"/><line x1="241" y1="1207" x2="333" y2="1207"/></g>

<!-- ================= PANEL I ================= -->
<text class="pl" x="402" y="948">I</text>
<text class="ttl" x="595" y="949" text-anchor="middle" style="font-size:17px">HPAF-II orthotopic tumors</text>
<line x1="486" y1="952" x2="704" y2="952" stroke="#111" stroke-width="1"/>
<g class="ax"><path d="M463,973 L463,1186 L720,1186 M457,973 L463,973 M457,1042 L463,1042 M457,1111 L463,1111 M457,1180 L463,1180 M502,1186 L502,1191 M550,1186 L550,1191 M637,1186 L637,1191 M683,1186 L683,1191"/></g>
<g text-anchor="end"><text class="tk2" x="455" y="978">3</text><text class="tk2" x="455" y="1047">2</text><text class="tk2" x="455" y="1116">1</text><text class="tk2" x="455" y="1185">0</text></g>
<text class="yl2" transform="translate(420,1083) rotate(-90)" y="7" text-anchor="middle">Sterol (μg/g)</text>
<path class="nb" d="M500,989 L500,1009 M500,1136 L500,1157 M490,989 L510,989 M490,1157 L510,1157"/>
<rect class="nb" x="482" y="1009" width="36" height="127"/><line x1="482" y1="1101" x2="518" y2="1101" stroke="#1c2b96" stroke-width="2"/>
<path class="rb" d="M548,1102 L548,1114 M538,1102 L558,1102"/>
<rect class="rb" x="530" y="1114" width="36" height="44"/><line x1="530" y1="1127" x2="566" y2="1127" stroke="#8a2212" stroke-width="2"/>
<path class="nb" d="M635,1094 L635,1101 M635,1164 L635,1168 M625,1094 L645,1094"/>
<rect class="nb" x="617" y="1101" width="35" height="63"/><line x1="617" y1="1138" x2="652" y2="1138" stroke="#1c2b96" stroke-width="2"/>
<path class="rb" d="M683,1136 L683,1143 M673,1136 L693,1136"/>
<rect class="rb" x="664" y="1143" width="37" height="38"/><line x1="664" y1="1168" x2="701" y2="1168" stroke="#8a2212" stroke-width="2"/>
<g>
<circle class="nf" cx="500" cy="989" r="4"/><circle class="nf" cx="500" cy="1004" r="4"/><circle class="nf" cx="500" cy="1014" r="4"/><circle class="nf" cx="500" cy="1071" r="4"/>
<circle class="no" cx="500" cy="1101" r="4"/><circle class="no" cx="500" cy="1109" r="4"/><circle class="no" cx="493" cy="1133" r="4"/><circle class="no" cx="507" cy="1140" r="4"/><circle class="no" cx="500" cy="1157" r="4"/>
<rect class="rf" x="530" y="1098" width="8" height="8"/><rect class="rf" x="544" y="1103" width="8" height="8"/><rect class="rf" x="544" y="1117" width="8" height="8"/><rect class="rf" x="530" y="1123" width="8" height="8"/>
<rect class="ro" x="559.5" y="1120.5" width="7" height="7"/><rect class="ro" x="544.5" y="1134.5" width="7" height="7"/><rect class="ro" x="544.5" y="1152.5" width="7" height="7"/><rect class="ro" x="537.5" y="1162.5" width="7" height="7"/><rect class="ro" x="552.5" y="1160.5" width="7" height="7"/>
<circle class="nf" cx="619" cy="1098" r="4"/><circle class="nf" cx="629" cy="1102" r="4"/><circle class="nf" cx="648" cy="1094" r="4"/><circle class="nf" cx="634" cy="1127" r="4"/>
<circle class="no" cx="634" cy="1138" r="4"/><circle class="no" cx="629" cy="1162" r="4"/><circle class="no" cx="638" cy="1164" r="4"/><circle class="no" cx="619" cy="1169" r="4"/><circle class="no" cx="648" cy="1164" r="4"/>
<rect class="rf" x="673" y="1132" width="8" height="8"/><rect class="rf" x="684" y="1135" width="8" height="8"/><rect class="rf" x="673" y="1141" width="8" height="8"/><rect class="rf" x="679" y="1149" width="8" height="8"/>
<rect x="679.5" y="1164.5" width="7" height="7" fill="#fff" stroke="#c8a060" stroke-width="1.6"/>
<rect class="ro" x="663.5" y="1173.5" width="7" height="7"/><rect class="ro" x="673.5" y="1173.5" width="7" height="7"/><rect class="ro" x="684.5" y="1173.5" width="7" height="7"/><rect class="ro" x="694.5" y="1173.5" width="7" height="7"/>
</g>
<g class="brk"><path d="M500,973 L500,979 M500,976 L548,976 M548,973 L548,979 M635,1071 L635,1077 M635,1074 L683,1074 M683,1071 L683,1077"/></g>
<text class="st" x="523" y="980" text-anchor="middle">**</text>
<text class="st" x="658" y="1079" text-anchor="middle">**</text>
<g text-anchor="middle">
<text class="cat" x="500" y="1206">VEH</text><text class="cat" x="551" y="1206">ETC-159</text>
<text class="cat" x="637" y="1206">VEH</text><text class="cat" x="686" y="1206">ETC-159</text>
<text class="grp" x="538" y="1229">Dihydro T-MAS</text><text class="grp" x="672" y="1229">T-MAS</text>
</g>
<g stroke="#111" stroke-width="1"><line x1="480" y1="1210" x2="580" y2="1210"/><line x1="623" y1="1210" x2="715" y2="1210"/></g>

<!-- ================= PANEL J ================= -->
<text class="pl" x="786" y="948">J</text>
<text class="ttl" x="979" y="949" text-anchor="middle">Tumors w/stabilized β-catenin</text>
<line x1="850" y1="952" x2="1102" y2="952" stroke="#111" stroke-width="1"/>
<g class="ax"><path d="M846,977 L846,1041 M846,1049 L846,1192 L1103,1192 M840,977 L846,977 M840,1003 L846,1003 M840,1031 L846,1031 M841,1041 L850,1041 M841,1049 L850,1049 M840,1078 L846,1078 M840,1135 L846,1135 M840,1192 L846,1192 M892,1192 L892,1197 M940,1192 L940,1197 M1027,1192 L1027,1197 M1073,1192 L1073,1197"/></g>
<g text-anchor="end"><text class="tk2" x="838" y="982">25</text><text class="tk2" x="838" y="1008">20</text><text class="tk2" x="838" y="1036">15</text><text class="tk2" x="838" y="1083">10</text><text class="tk2" x="838" y="1140">5</text><text class="tk2" x="838" y="1197">0</text></g>
<text class="yl2" transform="translate(807,1083) rotate(-90)" y="7" text-anchor="middle">Sterol (μg/g)</text>
<text class="big" x="867" y="984">Lophenol</text>
<path class="nb" d="M892,1067 L892,1073 M892,1096 L892,1103 M882,1067 L902,1067 M882,1103 L902,1103"/>
<rect class="nb" x="874" y="1073" width="36" height="23"/><line x1="874" y1="1082" x2="910" y2="1082" stroke="#1c2b96" stroke-width="2"/>
<path class="rb" d="M934,1116 L934,1122 M934,1145 L934,1158 M924,1116 L944,1116 M924,1158 L944,1158"/>
<rect class="rb" x="916" y="1122" width="36" height="23"/><line x1="916" y1="1127" x2="952" y2="1127" stroke="#8a2212" stroke-width="2"/>
<path class="sb" d="M1023,1019 L1023,1023 M1023,1060 L1023,1074 M1013,1019 L1033,1019 M1013,1074 L1033,1074"/>
<rect class="sb" x="1005" y="1023" width="37" height="37"/><line x1="1005" y1="1039" x2="1042" y2="1039" stroke="#1f5ae6" stroke-width="2"/>
<path class="mb" d="M1066,982 L1066,1003 M1066,1075 L1066,1092 M1056,982 L1076,982 M1056,1092 L1076,1092"/>
<rect class="mb" x="1048" y="1003" width="37" height="72"/><line x1="1048" y1="1038" x2="1085" y2="1038" stroke="#e25ce0" stroke-width="2"/>
<rect x="1000" y="1042" width="90" height="7" fill="#fff"/>
<g>
<circle class="nf" cx="892" cy="1067" r="4"/><circle class="nf" cx="883" cy="1082" r="4"/><circle class="nf" cx="901" cy="1078" r="4"/><circle class="nf" cx="901" cy="1089" r="4"/><circle class="nf" cx="892" cy="1103" r="4"/>
<rect class="rf" x="930" y="1112" width="8" height="8"/><rect class="rf" x="915" y="1123" width="8" height="8"/><rect class="rf" x="944" y="1123" width="8" height="8"/><rect class="rf" x="930" y="1130" width="8" height="8"/><rect class="rf" x="930" y="1154" width="8" height="8"/>
<circle class="sf" cx="1014" cy="1019" r="4"/><circle class="sf" cx="1032" cy="1024" r="4"/><circle class="sf" cx="1014" cy="1039" r="4"/><circle class="sf" cx="1032" cy="1043" r="4"/><circle class="sf" cx="1023" cy="1074" r="4"/>
<rect class="mf" x="1062" y="980" width="8" height="8"/><rect class="mf" x="1062" y="1019" width="8" height="8"/><rect class="mf" x="1062" y="1034" width="8" height="8"/><rect class="mf" x="1062" y="1057" width="8" height="8"/><rect class="mf" x="1062" y="1088" width="8" height="8"/>
</g>
<g class="brk"><path d="M888,1040 L888,1046 M888,1043 L939,1043 M939,1040 L939,1046 M1022,967 L1022,973 M1022,970 L1066,970 M1066,967 L1066,973"/></g>
<text class="st" x="914" y="1045" text-anchor="middle">**</text>
<text class="ns" x="1043" y="968" text-anchor="middle">NS</text>
<g text-anchor="middle">
<text class="cat" x="890" y="1208.5">VEH</text><text class="cat" x="941" y="1208.5">ETC-159</text>
<text class="cat" x="1028" y="1208.5">VEH</text><text class="cat" x="1078" y="1208.5">ETC-159</text>
<text class="grp" x="914" y="1234">HPAF-II</text><text class="grp" x="1058" y="1234">HPAF-II</text><text class="grp" x="1059" y="1251">w/stab β-cat</text>
</g>
<g stroke="#111" stroke-width="1"><line x1="876" y1="1213" x2="969" y2="1213"/><line x1="1014" y1="1213" x2="1106" y2="1213"/></g>

<!-- ================= PANEL K ================= -->
<text class="pl" x="2" y="1300">K</text>
<text class="ttl" x="209" y="1300" text-anchor="middle">Tumors w/stabilized β-catenin</text>
<line x1="80" y1="1303" x2="333" y2="1303" stroke="#111" stroke-width="1"/>
<g class="ax"><path d="M82,1325 L82,1539 L338,1539 M76,1325 L82,1325 M76,1368 L82,1368 M76,1411 L82,1411 M76,1453 L82,1453 M76,1496 L82,1496 M76,1539 L82,1539 M123,1539 L123,1544 M165,1539 L165,1544 M255,1539 L255,1544 M298,1539 L298,1544"/></g>
<g text-anchor="end"><text class="tk2" x="74" y="1330">5</text><text class="tk2" x="74" y="1373">4</text><text class="tk2" x="74" y="1416">3</text><text class="tk2" x="74" y="1458">2</text><text class="tk2" x="74" y="1501">1</text><text class="tk2" x="74" y="1544">0</text></g>
<text class="yl2" transform="translate(43,1442) rotate(-90)" y="7" text-anchor="middle">Sterol (μg/g)</text>
<text class="big" x="87" y="1335">Dihydro T-MAS</text>
<path class="nb" d="M122,1434 L122,1439 M122,1457 L122,1469 M112,1434 L132,1434 M112,1469 L132,1469"/>
<rect class="nb" x="102" y="1439" width="39" height="18"/><line x1="102" y1="1448" x2="141" y2="1448" stroke="#1c2b96" stroke-width="2"/>
<path class="rb" d="M166,1511 L166,1522 M156,1522 L176,1522"/>
<rect class="rb" x="147" y="1495" width="38" height="16"/><line x1="147" y1="1499" x2="185" y2="1499" stroke="#8a2212" stroke-width="2"/>
<path class="sb" d="M254,1367 L254,1387 M254,1443 L254,1450 M244,1367 L264,1367 M244,1450 L264,1450"/>
<rect class="sb" x="235" y="1387" width="38" height="56"/><line x1="235" y1="1432" x2="273" y2="1432" stroke="#1f5ae6" stroke-width="2"/>
<path class="mb" d="M298,1349 L298,1382 M298,1459 L298,1470 M288,1349 L308,1349 M288,1470 L308,1470"/>
<rect class="mb" x="279" y="1382" width="38" height="77"/><line x1="279" y1="1433" x2="317" y2="1433" stroke="#e25ce0" stroke-width="2"/>
<g>
<circle class="nf" cx="122" cy="1434" r="4"/><circle class="nf" cx="106" cy="1442" r="4"/><circle class="nf" cx="122" cy="1448" r="4"/><circle class="nf" cx="137" cy="1448" r="4"/><circle class="nf" cx="122" cy="1469" r="4"/>
<rect class="rf" x="146" y="1490" width="8" height="8"/><rect class="rf" x="162" y="1489" width="8" height="8"/><rect class="rf" x="162" y="1499" width="8" height="8"/><rect class="rf" x="177" y="1495" width="8" height="8"/><rect class="rf" x="162" y="1518" width="8" height="8"/>
<circle class="sf" cx="254" cy="1367" r="4"/><circle class="sf" cx="254" cy="1406" r="4"/><circle class="sf" cx="246" cy="1432" r="4"/><circle class="sf" cx="262" cy="1439" r="4"/><circle class="sf" cx="254" cy="1450" r="4"/>
<rect class="mf" x="294" y="1345" width="8" height="8"/><rect class="mf" x="294" y="1410" width="8" height="8"/><rect class="mf" x="294" y="1429" width="8" height="8"/><rect class="mf" x="294" y="1445" width="8" height="8"/><rect class="mf" x="294" y="1466" width="8" height="8"/>
</g>
<g class="brk"><path d="M120,1412 L120,1418 M120,1415 L172,1415 M172,1412 L172,1418 M256,1332 L256,1338 M256,1335 L300,1335 M300,1332 L300,1338"/></g>
<text class="st" x="146" y="1417" text-anchor="middle">**</text>
<text class="ns" x="277" y="1332" text-anchor="middle">NS</text>
<g text-anchor="middle">
<text class="cat" x="122" y="1555.5">VEH</text><text class="cat" x="169" y="1555.5">ETC-159</text>
<text class="cat" x="253" y="1555.5">VEH</text><text class="cat" x="303" y="1555.5">ETC-159</text>
<text class="grp" x="148" y="1581">HPAF-II</text><text class="grp" x="286" y="1581">HPAF-II</text><text class="grp" x="286" y="1598">w/stab β-cat</text>
</g>
<g stroke="#111" stroke-width="1"><line x1="103" y1="1562" x2="196" y2="1562"/><line x1="240" y1="1562" x2="333" y2="1562"/></g>

<!-- ================= PANEL L ================= -->
<text class="pl" x="396" y="1300">L</text>
<text class="ttl" x="594" y="1300" text-anchor="middle">Tumors w/stabilized β-catenin</text>
<line x1="465" y1="1303" x2="718" y2="1303" stroke="#111" stroke-width="1"/>
<g class="ax"><path d="M463,1327 L463,1540 L720,1540 M457,1327 L463,1327 M457,1380 L463,1380 M457,1433 L463,1433 M457,1487 L463,1487 M457,1540 L463,1540 M502,1540 L502,1545 M547,1540 L547,1545 M637,1540 L637,1545 M683,1540 L683,1545"/></g>
<g text-anchor="end"><text class="tk2" x="455" y="1332">2.0</text><text class="tk2" x="455" y="1385">1.5</text><text class="tk2" x="455" y="1438">1.0</text><text class="tk2" x="455" y="1492">0.5</text><text class="tk2" x="455" y="1545">0.0</text></g>
<text class="yl2" transform="translate(415,1442) rotate(-90)" y="7" text-anchor="middle">Sterol (μg/g)</text>
<text class="big" x="473" y="1339">T-MAS</text>
<path class="nb" d="M503,1388 L503,1401 M503,1432 L503,1449 M493,1388 L513,1388 M493,1449 L513,1449"/>
<rect class="nb" x="483" y="1401" width="39" height="31"/><line x1="483" y1="1412" x2="522" y2="1412" stroke="#1c2b96" stroke-width="2"/>
<path class="rb" d="M548,1477 L548,1485 M548,1507 L548,1514 M538,1477 L558,1477 M538,1514 L558,1514"/>
<rect class="rb" x="528" y="1485" width="39" height="22"/><line x1="528" y1="1493" x2="567" y2="1493" stroke="#8a2212" stroke-width="2"/>
<path class="sb" d="M636,1357 L636,1369 M636,1428 L636,1433 M626,1357 L646,1357 M626,1433 L646,1433"/>
<rect class="sb" x="616" y="1369" width="39" height="59"/><line x1="616" y1="1406" x2="655" y2="1406" stroke="#1f5ae6" stroke-width="2"/>
<path class="mb" d="M679,1342 L679,1382 M679,1439 L679,1454 M669,1342 L689,1342 M669,1454 L689,1454"/>
<rect class="mb" x="660" y="1382" width="38" height="57"/><line x1="660" y1="1421" x2="698" y2="1421" stroke="#e25ce0" stroke-width="2"/>
<g>
<circle class="nf" cx="503" cy="1388" r="4"/><circle class="nf" cx="487" cy="1412" r="4"/><circle class="nf" cx="503" cy="1417" r="4"/><circle class="nf" cx="518" cy="1412" r="4"/><circle class="nf" cx="503" cy="1449" r="4"/>
<rect class="rf" x="544" y="1473" width="8" height="8"/><rect class="rf" x="528" y="1489" width="8" height="8"/><rect class="rf" x="550" y="1486" width="8" height="8"/><rect class="rf" x="544" y="1498" width="8" height="8"/><rect class="rf" x="544" y="1510" width="8" height="8"/>
<circle class="sf" cx="636" cy="1357" r="4"/><circle class="sf" cx="636" cy="1381" r="4"/><circle class="sf" cx="636" cy="1405" r="4"/><circle class="sf" cx="636" cy="1425" r="4"/><circle class="sf" cx="636" cy="1433" r="4"/>
<rect class="mf" x="675" y="1338" width="8" height="8"/><rect class="mf" x="659" y="1416" width="8" height="8"/><rect class="mf" x="675" y="1421" width="8" height="8"/><rect class="mf" x="691" y="1417" width="8" height="8"/><rect class="mf" x="675" y="1450" width="8" height="8"/>
</g>
<g class="brk"><path d="M500,1368 L500,1374 M500,1371 L551,1371 M551,1368 L551,1374 M633,1322 L633,1328 M633,1325 L677,1325 M677,1322 L677,1328"/></g>
<text class="st" x="524" y="1372" text-anchor="middle">**</text>
<text class="ns" x="656" y="1322" text-anchor="middle">NS</text>
<g text-anchor="middle">
<text class="cat" x="500" y="1557.5">VEH</text><text class="cat" x="550" y="1557.5">ETC-159</text>
<text class="cat" x="637" y="1557.5">VEH</text><text class="cat" x="688" y="1557.5">ETC-159</text>
<text class="grp" x="529" y="1584">HPAF-II</text><text class="grp" x="673" y="1584">HPAF-II</text><text class="grp" x="673" y="1601">w/stab β-cat</text>
</g>
<g stroke="#111" stroke-width="1"><line x1="485" y1="1563" x2="578" y2="1563"/><line x1="623" y1="1563" x2="716" y2="1563"/></g>

<!-- ================= PANEL M ================= -->
<text class="pl" x="777" y="1300">M</text>
<text class="ttl" x="988" y="1300" text-anchor="middle">HCT116 tumors</text>
<line x1="923" y1="1303" x2="1052" y2="1303" stroke="#111" stroke-width="1"/>
<g class="ax"><path d="M847,1333 L847,1377 M847,1382 L847,1546 L1110,1546 M841,1333 L847,1333 M841,1362 L847,1362 M841,1376 L851,1376 M841,1383 L847,1383 M841,1416 L847,1416 M841,1448 L847,1448 M841,1481 L847,1481 M841,1513 L847,1513 M885,1546 L885,1551 M933,1546 L933,1551 M1023,1546 L1023,1551 M1071,1546 L1071,1551"/></g>
<g text-anchor="end"><text class="tk2" x="840" y="1338">25</text><text class="tk2" x="840" y="1367">15</text><text class="tk2" x="840" y="1388">10</text><text class="tk2" x="840" y="1421">8</text><text class="tk2" x="840" y="1453">6</text><text class="tk2" x="840" y="1486">4</text><text class="tk2" x="840" y="1518">2</text></g>
<text class="yl2" transform="translate(810,1438) rotate(-90)" y="7" text-anchor="middle">Sterol (μg/g)</text>
<path class="nb" d="M889,1343 L889,1346 M889,1420 L889,1430 M879,1343 L899,1343 M879,1430 L899,1430"/>
<rect class="nb" x="869" y="1346" width="40" height="74"/><line x1="869" y1="1386" x2="909" y2="1386" stroke="#1c2b96" stroke-width="2"/>
<rect x="864" y="1377" width="50" height="5" fill="#fff"/>
<path class="rb" d="M936,1476 L936,1489 M926,1476 L946,1476"/>
<rect class="rb" x="915" y="1489" width="40" height="23"/><line x1="915" y1="1503" x2="955" y2="1503" stroke="#8a2212" stroke-width="2"/><line x1="926" y1="1507" x2="946" y2="1507" stroke="#8a2212" stroke-width="2"/>
<path class="nb" d="M1023,1453 L1023,1460 M1023,1491 L1023,1507 M1013,1453 L1033,1453 M1013,1507 L1033,1507"/>
<rect class="nb" x="1003" y="1460" width="40" height="31"/><line x1="1003" y1="1474" x2="1043" y2="1474" stroke="#1c2b96" stroke-width="2"/>
<path class="rb" d="M1069,1493 L1069,1498 M1069,1515 L1069,1520 M1059,1493 L1079,1493 M1059,1520 L1079,1520"/>
<rect class="rb" x="1049" y="1498" width="40" height="17"/><line x1="1049" y1="1505" x2="1089" y2="1505" stroke="#8a2212" stroke-width="2"/>
<g>
<circle class="nf" cx="880" cy="1346" r="4"/><circle class="nf" cx="898" cy="1343" r="4"/><circle class="nf" cx="889" cy="1376" r="4"/><circle class="nf" cx="889" cy="1391" r="4"/><circle class="nf" cx="889" cy="1418" r="4"/><circle class="nf" cx="889" cy="1430" r="4"/>
<rect class="rf" x="932" y="1472" width="8" height="8"/><rect class="rf" x="915" y="1488" width="8" height="8"/><rect class="rf" x="915" y="1505" width="8" height="8"/><rect class="rf" x="948" y="1495" width="8" height="8"/><rect class="rf" x="948" y="1504" width="8" height="8"/><rect class="rf" x="932" y="1503" width="8" height="8"/>
<circle class="nf" cx="1032" cy="1453" r="4"/><circle class="nf" cx="1014" cy="1462" r="4"/><circle class="nf" cx="1032" cy="1472" r="4"/><circle class="nf" cx="1014" cy="1477" r="4"/><circle class="nf" cx="1023" cy="1487" r="4"/><circle class="nf" cx="1023" cy="1507" r="4"/>
<rect class="rf" x="1049" y="1493" width="8" height="8"/><rect class="rf" x="1082" y="1488" width="8" height="8"/><rect class="rf" x="1065" y="1501" width="8" height="8"/><rect class="rf" x="1082" y="1509" width="8" height="8"/><rect class="rf" x="1049" y="1517" width="8" height="8"/><rect class="rf" x="1082" y="1499" width="8" height="8"/>
</g>
<g class="brk"><path d="M888,1320 L888,1326 M888,1323 L939,1323 M939,1320 L939,1326 M1024,1425 L1024,1431 M1024,1428 L1072,1428 M1072,1425 L1072,1431"/></g>
<text class="st" x="913" y="1327" text-anchor="middle">**</text>
<text class="st" x="1048" y="1432" text-anchor="middle">*</text>
<g text-anchor="middle">
<text class="cat" x="881" y="1561.5">WT</text><text class="cat" x="938" y="1561.5" font-style="italic">TCF7L2KO</text>
<text class="cat" x="1019" y="1561.5">WT</text><text class="cat" x="1077" y="1561.5" font-style="italic">TCF7L2KO</text>
<text class="grp" x="918" y="1588">Lophenol</text><text class="grp" x="1057" y="1588">Dihydro-TMAS</text>
</g>
<g stroke="#111" stroke-width="1"><line x1="867" y1="1568" x2="964" y2="1568"/><line x1="1010" y1="1568" x2="1106" y2="1568"/></g>
</svg>
</body></html>
